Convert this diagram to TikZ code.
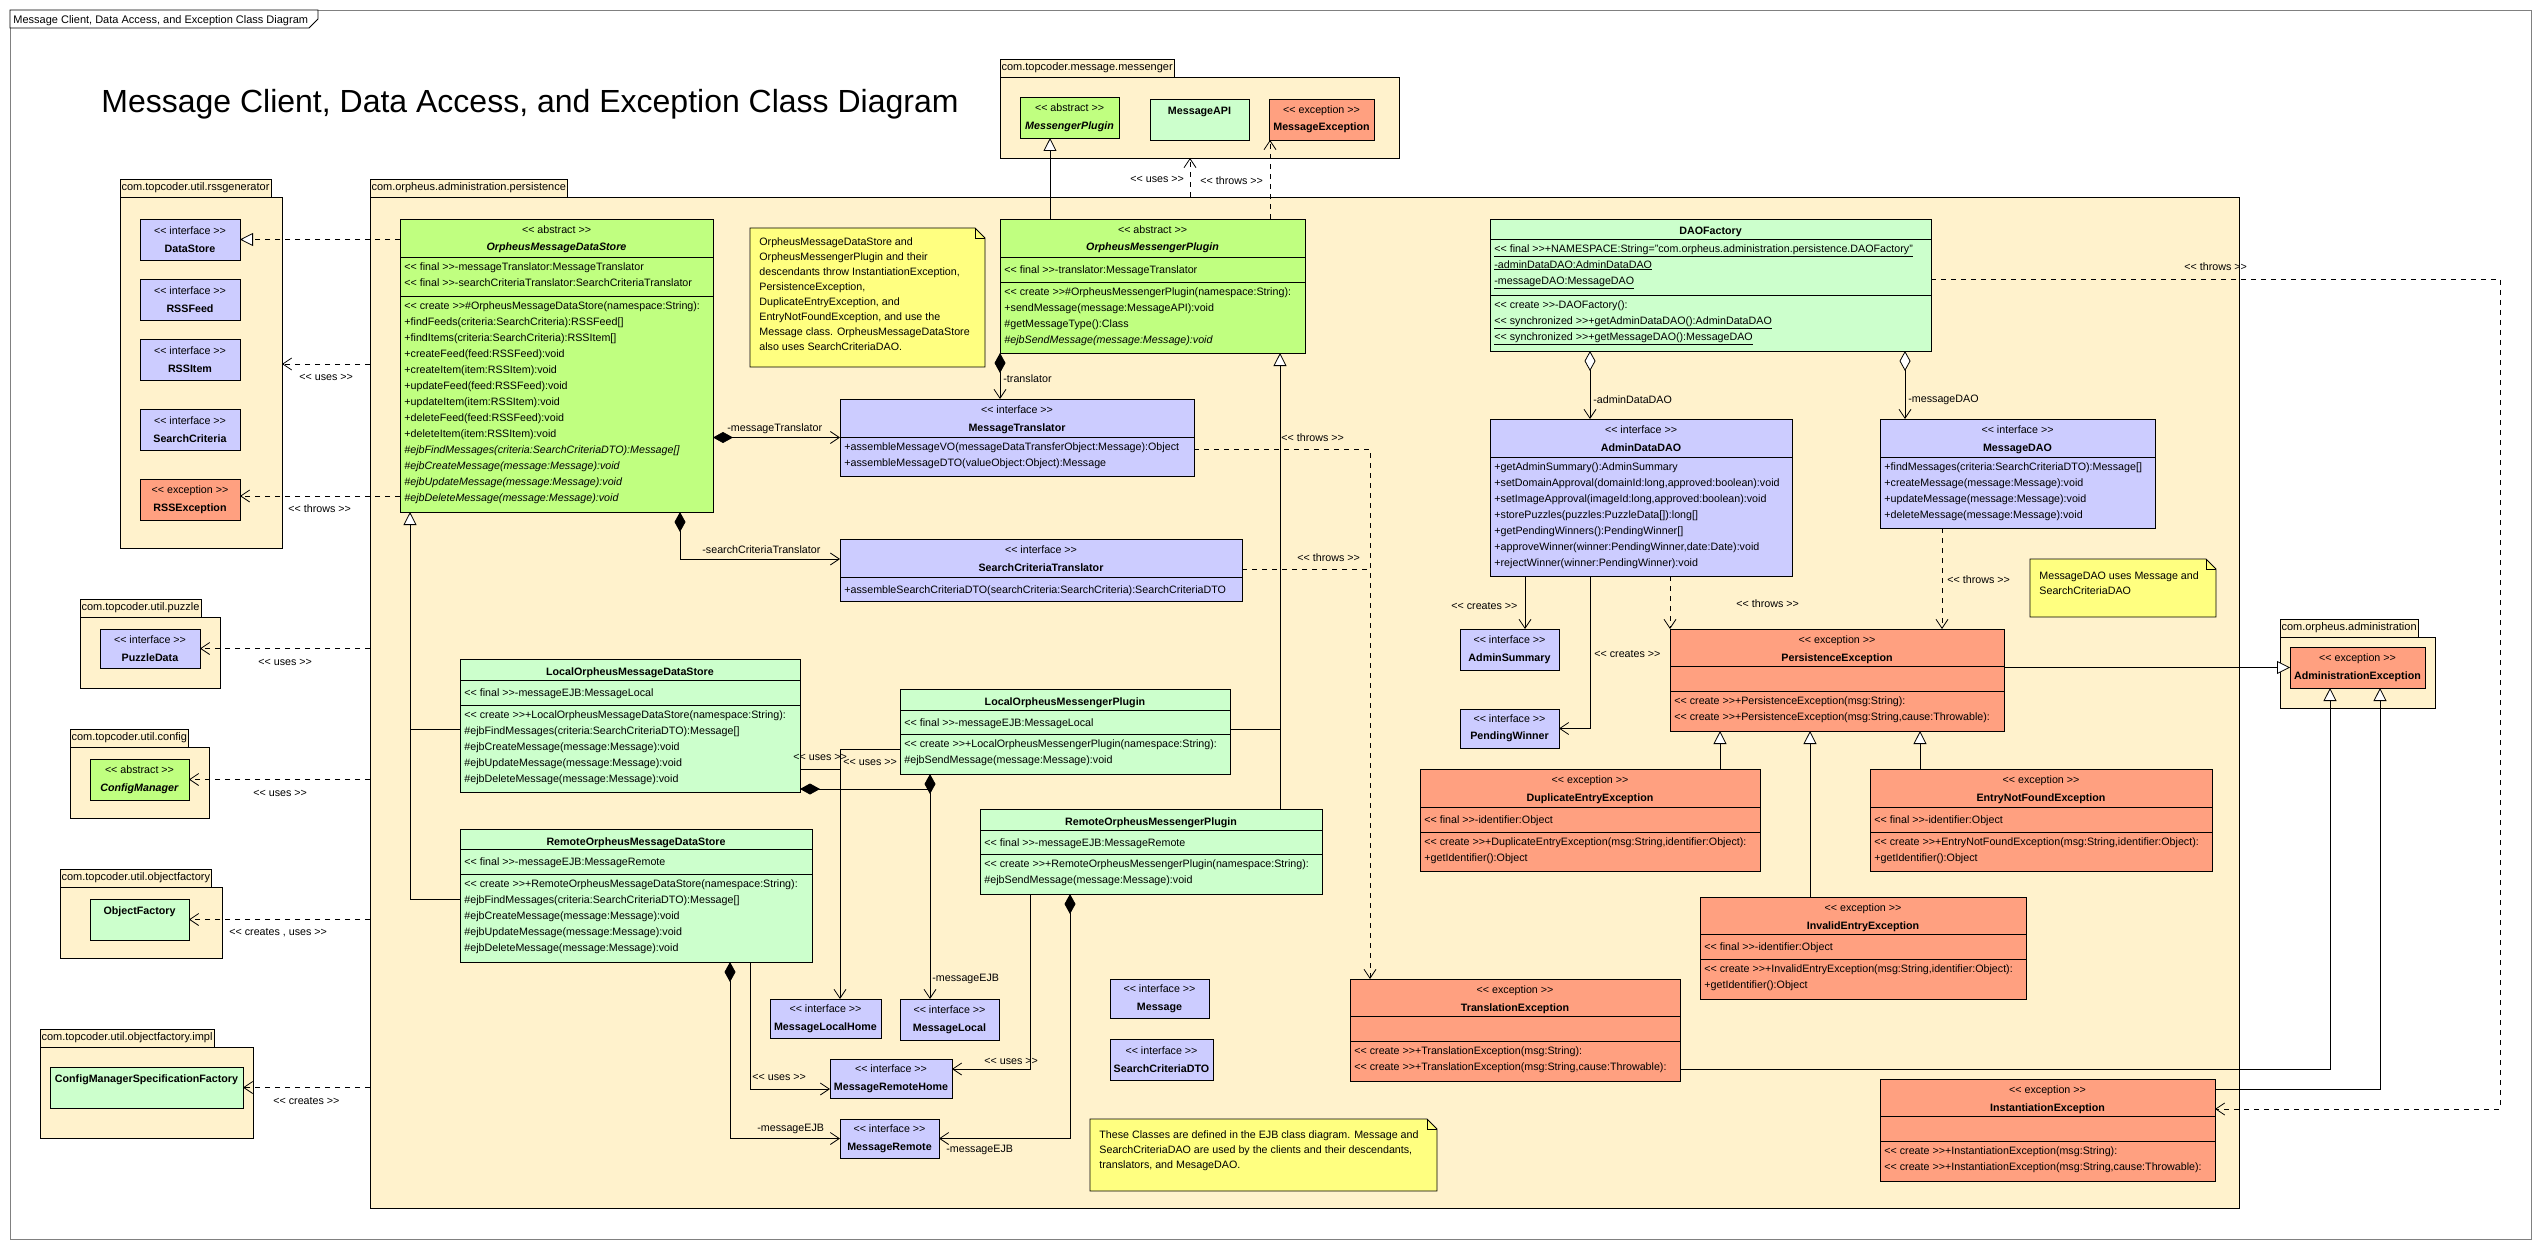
\documentclass[tikz,border=0pt]{standalone}
\usepackage{fontspec}
\setmainfont{Liberation Sans}
\usetikzlibrary{arrows.meta}
\definecolor{pkgfill}{RGB}{255,242,204}
\definecolor{ifill}{RGB}{204,204,255}
\definecolor{afill}{RGB}{192,255,128}
\definecolor{cfill}{RGB}{204,255,204}
\definecolor{efill}{RGB}{255,160,128}
\definecolor{nfill}{RGB}{255,255,128}
\definecolor{framegray}{RGB}{128,128,128}
\newcommand{\stt}[1]{<\kern0pt< #1 >\kern0pt>}
\newcommand{\umlfont}{\fontsize{10.7}{16}\selectfont}
\newcommand{\notefont}{\fontsize{10.7}{15}\selectfont}
\newcommand{\tabfont}{\fontsize{11}{13}\selectfont}

\begin{document}
\begin{tikzpicture}[x=1pt, y=-1pt, line width=0.8pt,
    box/.style={draw, anchor=north west, inner sep=0pt, outer sep=0pt},
    sbox/.style={box, align=center, font=\umlfont, minimum width=100pt, minimum height=41pt},
    tab/.style={box, fill=pkgfill, minimum height=18pt, inner xsep=1.5pt, font=\tabfont},
    st/.style={anchor=base, inner sep=0pt, font=\umlfont},
    nm/.style={anchor=base, inner sep=0pt, font=\umlfont\bfseries},
    an/.style={anchor=base, inner sep=0pt, font=\umlfont\bfseries\itshape},
    txt/.style={anchor=north west, inner sep=0pt, align=left, font=\umlfont, execute at begin node={\strut}},
    lbl/.style={anchor=west, inner sep=0pt, font=\umlfont},
    dl/.style={dash pattern=on 5pt off 5pt},
    dep/.style={dl, -{Straight Barb[length=9pt,width=12pt]}},
    asc/.style={-{Straight Barb[length=9pt,width=12pt]}},
    gen/.style={-{Triangle[fill=white,length=13pt,width=13pt]}},
    real/.style={dl, gen},
    dia/.style={{Diamond[length=20pt,width=11pt]}-},
    comp/.style={{Diamond[length=20pt,width=11pt]}-{Straight Barb[length=9pt,width=12pt]}},
    aggr/.style={{Diamond[fill=white,length=20pt,width=11pt]}-{Straight Barb[length=9pt,width=12pt]}}]
    \fill[white] (0,0) rectangle (2540,1249);
    \useasboundingbox (0,0) rectangle (2540,1249);
    \draw[framegray] (10,10) rectangle (2531,1239);
    \draw[fill=white] (10,10) -- (318,10) -- (318,19) -- (309,28) -- (10,28) -- cycle;
    \node[anchor=base west, inner sep=0pt, font=\tabfont] (frameL) at (13,24) {Message Client, Data Access, and Exception Class Diagram};
    \node[anchor=base west, inner sep=0pt, font=\fontsize{32}{38}\selectfont] (title) at (101,113) {Message Client, Data Access, and Exception Class Diagram};

    \node[box, fill=pkgfill, minimum width=162pt, minimum height=351pt] (pRss) at (120,197) {};
    \node[tab] (pRssT) at (120,179) {com.topcoder.util.rssgenerator};
    \node[box, fill=pkgfill, minimum width=1869pt, minimum height=1011pt] (pPers) at (370,197) {};
    \node[tab] (pPersT) at (370,179) {com.orpheus.administration.persistence};
    \node[box, fill=pkgfill, minimum width=399pt, minimum height=81pt] (pMsg) at (1000,77) {};
    \node[tab] (pMsgT) at (1000,59) {com.topcoder.message.messenger};
    \node[box, fill=pkgfill, minimum width=140pt, minimum height=71pt] (pPuz) at (80,617) {};
    \node[tab] (pPuzT) at (80,599) {com.topcoder.util.puzzle};
    \node[box, fill=pkgfill, minimum width=139pt, minimum height=71pt] (pCfg) at (70,747) {};
    \node[tab] (pCfgT) at (70,729) {com.topcoder.util.config};
    \node[box, fill=pkgfill, minimum width=162pt, minimum height=71pt] (pOf) at (60,887) {};
    \node[tab] (pOfT) at (60,869) {com.topcoder.util.objectfactory};
    \node[box, fill=pkgfill, minimum width=213pt, minimum height=91pt] (pImpl) at (40,1047) {};
    \node[tab] (pImplT) at (40,1029) {com.topcoder.util.objectfactory.impl};
    \node[box, fill=pkgfill, minimum width=155pt, minimum height=71pt] (pAdm) at (2280,637) {};
    \node[tab] (pAdmT) at (2280,619) {com.orpheus.administration};

    \node[sbox, fill=ifill] (dstore) at (140,219) {\stt{interface}\\[1.5pt]\textbf{DataStore}};
    \node[sbox, fill=ifill] (rfeed) at (140,279) {\stt{interface}\\[1.5pt]\textbf{RSSFeed}};
    \node[sbox, fill=ifill] (ritem) at (140,339) {\stt{interface}\\[1.5pt]\textbf{RSSItem}};
    \node[sbox, fill=ifill] (scrit) at (140,409) {\stt{interface}\\[1.5pt]\textbf{SearchCriteria}};
    \node[sbox, fill=efill] (rssex) at (140,479) {\stt{exception}\\[1.5pt]\textbf{RSSException}};
    \node[sbox, fill=ifill, minimum height=39pt] (pdata) at (100,629) {\stt{interface}\\[1.5pt]\textbf{PuzzleData}};
    \node[sbox, fill=afill, minimum width=99pt] (cfgm) at (90,759) {\stt{abstract}\\[1.5pt]\textbf{\textit{ConfigManager}}};
    \node[sbox, fill=cfill, minimum width=99pt] (objf) at (90,899) {};
    \node[nm] (objfN) at ([yshift=-15.5pt]objf.north) {ObjectFactory};
    \node[sbox, fill=cfill, minimum width=193pt] (cmsf) at (50,1067) {};
    \node[nm] (cmsfN) at ([yshift=-15.5pt]cmsf.north) {ConfigManagerSpecificationFactory};
    \node[sbox, fill=afill, minimum width=99pt] (mplug) at (1020,97) {\stt{abstract}\\[1.5pt]\textbf{\textit{MessengerPlugin}}};
    \node[sbox, fill=cfill, minimum width=99pt] (mapi) at (1150,99) {};
    \node[nm] (mapiN) at ([yshift=-15.5pt]mapi.north) {MessageAPI};
    \node[sbox, fill=efill, minimum width=105pt] (mexc) at (1269,99) {\stt{exception}\\[1.5pt]\textbf{MessageException}};
    \node[sbox, fill=efill, minimum width=135pt] (adex) at (2290,647) {\stt{exception}\\[1.5pt]\textbf{AdministrationException}};

    \node[box, fill=afill, minimum width=313pt, minimum height=293pt] (ods) at (400,219) {};
    \draw (ods.west |- 0,257) -- (ods.east |- 0,257);
    \draw (ods.west |- 0,296) -- (ods.east |- 0,296);
    \node[st] (odsS) at ([yshift=-14.5pt]ods.north) {\stt{abstract}};
    \node[an] (odsN) at ([yshift=-32pt]ods.north) {OrpheusMessageDataStore};
    \node[txt] (odsA) at (404,262) {\stt{final}-messageTranslator:MessageTranslator\\
        \stt{final}-searchCriteriaTranslator:SearchCriteriaTranslator};
    \node[txt] (odsM) at (404,301) {\stt{create}\#OrpheusMessageDataStore(namespace:String):\\
        +findFeeds(criteria:SearchCriteria):RSSFeed[]\\
        +findItems(criteria:SearchCriteria):RSSItem[]\\
        +createFeed(feed:RSSFeed):void\\
        +createItem(item:RSSItem):void\\
        +updateFeed(feed:RSSFeed):void\\
        +updateItem(item:RSSItem):void\\
        +deleteFeed(feed:RSSFeed):void\\
        +deleteItem(item:RSSItem):void\\
        \textit{\#ejbFindMessages(criteria:SearchCriteriaDTO):Message[]}\\
        \textit{\#ejbCreateMessage(message:Message):void}\\
        \textit{\#ejbUpdateMessage(message:Message):void}\\
        \textit{\#ejbDeleteMessage(message:Message):void}};

    \draw[fill=nfill] (750,228) -- (975,228) -- (985,238) -- (985,367) -- (750,367) -- cycle;
    \draw (975,228) -- (975,238) -- (985,238);
    \node[txt, font=\notefont] (noteA) at (759,237.5) {OrpheusMessageDataStore and\\
        OrpheusMessengerPlugin and their\\
        descendants throw InstantiationException,\\
        PersistenceException,\\
        DuplicateEntryException, and\\
        EntryNotFoundException, and use the\\
        Message class. OrpheusMessageDataStore\\
        also uses SearchCriteriaDAO.};

    \node[box, fill=afill, minimum width=305pt, minimum height=134pt] (omp) at (1000,219) {};
    \draw (omp.west |- 0,257) -- (omp.east |- 0,257);
    \draw (omp.west |- 0,282) -- (omp.east |- 0,282);
    \node[st] (ompS) at ([yshift=-14.5pt]omp.north) {\stt{abstract}};
    \node[an] (ompN) at ([yshift=-32pt]omp.north) {OrpheusMessengerPlugin};
    \node[txt] (ompA) at (1004,262) {\stt{final}-translator:MessageTranslator};
    \node[txt] (ompM) at (1004,287) {\stt{create}\#OrpheusMessengerPlugin(namespace:String):\\
        +sendMessage(message:MessageAPI):void\\
        \#getMessageType():Class\\
        \textit{\#ejbSendMessage(message:Message):void}};

    \node[box, fill=ifill, minimum width=354pt, minimum height=77pt] (mtr) at (840,399) {};
    \draw (mtr.west |- 0,437) -- (mtr.east |- 0,437);
    \node[st] (mtrS) at ([yshift=-14.5pt]mtr.north) {\stt{interface}};
    \node[nm] (mtrN) at ([yshift=-32pt]mtr.north) {MessageTranslator};
    \node[txt] (mtrM) at (844,442) {+assembleMessageVO(messageDataTransferObject:Message):Object\\
        +assembleMessageDTO(valueObject:Object):Message};

    \node[box, fill=ifill, minimum width=402pt, minimum height=62pt] (sct) at (840,539) {};
    \draw (sct.west |- 0,577) -- (sct.east |- 0,577);
    \node[st] (sctS) at ([yshift=-14.5pt]sct.north) {\stt{interface}};
    \node[nm] (sctN) at ([yshift=-32pt]sct.north) {SearchCriteriaTranslator};
    \node[txt] (sctM) at (844,582) {+assembleSearchCriteriaDTO(searchCriteria:SearchCriteria):SearchCriteriaDTO};

    \node[box, fill=cfill, minimum width=441pt, minimum height=132pt] (daof) at (1490,219) {};
    \draw (daof.west |- 0,239) -- (daof.east |- 0,239);
    \draw (daof.west |- 0,295) -- (daof.east |- 0,295);
    \node[nm] (daofN) at ([yshift=-16pt]daof.north) {DAOFactory};
    \node[txt] (daofA) at (1494,244) {\underline{\stt{final}+NAMESPACE:String="com.orpheus.administration.persistence.DAOFactory"}\\
        \underline{-adminDataDAO:AdminDataDAO}\\
        \underline{-messageDAO:MessageDAO}};
    \node[txt] (daofM) at (1494,300) {\stt{create}-DAOFactory():\\
        \underline{\stt{synchronized}+getAdminDataDAO():AdminDataDAO}\\
        \underline{\stt{synchronized}+getMessageDAO():MessageDAO}};

    \node[box, fill=ifill, minimum width=302pt, minimum height=157pt] (adao) at (1490,419) {};
    \draw (adao.west |- 0,457) -- (adao.east |- 0,457);
    \node[st] (adaoS) at ([yshift=-14.5pt]adao.north) {\stt{interface}};
    \node[nm] (adaoN) at ([yshift=-32pt]adao.north) {AdminDataDAO};
    \node[txt] (adaoM) at (1494,462) {+getAdminSummary():AdminSummary\\
        +setDomainApproval(domainId:long,approved:boolean):void\\
        +setImageApproval(imageId:long,approved:boolean):void\\
        +storePuzzles(puzzles:PuzzleData[]):long[]\\
        +getPendingWinners():PendingWinner[]\\
        +approveWinner(winner:PendingWinner,date:Date):void\\
        +rejectWinner(winner:PendingWinner):void};

    \node[box, fill=ifill, minimum width=275pt, minimum height=109pt] (mdao) at (1880,419) {};
    \draw (mdao.west |- 0,457) -- (mdao.east |- 0,457);
    \node[st] (mdaoS) at ([yshift=-14.5pt]mdao.north) {\stt{interface}};
    \node[nm] (mdaoN) at ([yshift=-32pt]mdao.north) {MessageDAO};
    \node[txt] (mdaoM) at (1884,462) {+findMessages(criteria:SearchCriteriaDTO):Message[]\\
        +createMessage(message:Message):void\\
        +updateMessage(message:Message):void\\
        +deleteMessage(message:Message):void};

    \draw[fill=nfill] (2030,559) -- (2206,559) -- (2216,569) -- (2216,617) -- (2030,617) -- cycle;
    \draw (2206,559) -- (2206,569) -- (2216,569);
    \node[txt, font=\notefont] (noteB) at (2039,571.5) {MessageDAO uses Message and\\
        SearchCriteriaDAO};

    \node[sbox, fill=ifill, minimum width=99pt] (asum) at (1460,629) {\stt{interface}\\[1.5pt]\textbf{AdminSummary}};
    \node[sbox, fill=ifill, minimum width=99pt, minimum height=39pt] (pwin) at (1460,709) {\stt{interface}\\[1.5pt]\textbf{PendingWinner}};

    \node[box, fill=efill, minimum width=334pt, minimum height=102pt] (pex) at (1670,629) {};
    \draw (pex.west |- 0,666) -- (pex.east |- 0,666);
    \draw (pex.west |- 0,691) -- (pex.east |- 0,691);
    \node[st] (pexS) at ([yshift=-14.5pt]pex.north) {\stt{exception}};
    \node[nm] (pexN) at ([yshift=-32pt]pex.north) {PersistenceException};
    \node[txt] (pexM) at (1674,696) {\stt{create}+PersistenceException(msg:String):\\
        \stt{create}+PersistenceException(msg:String,cause:Throwable):};

    \node[box, fill=efill, minimum width=340pt, minimum height=102pt] (dex) at (1420,769) {};
    \draw (dex.west |- 0,807) -- (dex.east |- 0,807);
    \draw (dex.west |- 0,832) -- (dex.east |- 0,832);
    \node[st] (dexS) at ([yshift=-14.5pt]dex.north) {\stt{exception}};
    \node[nm] (dexN) at ([yshift=-32pt]dex.north) {DuplicateEntryException};
    \node[txt] (dexA) at (1424,812) {\stt{final}-identifier:Object};
    \node[txt] (dexM) at (1424,837) {\stt{create}+DuplicateEntryException(msg:String,identifier:Object):\\
        +getIdentifier():Object};

    \node[box, fill=efill, minimum width=342pt, minimum height=102pt] (enf) at (1870,769) {};
    \draw (enf.west |- 0,807) -- (enf.east |- 0,807);
    \draw (enf.west |- 0,832) -- (enf.east |- 0,832);
    \node[st] (enfS) at ([yshift=-14.5pt]enf.north) {\stt{exception}};
    \node[nm] (enfN) at ([yshift=-32pt]enf.north) {EntryNotFoundException};
    \node[txt] (enfA) at (1874,812) {\stt{final}-identifier:Object};
    \node[txt] (enfM) at (1874,837) {\stt{create}+EntryNotFoundException(msg:String,identifier:Object):\\
        +getIdentifier():Object};

    \node[box, fill=efill, minimum width=326pt, minimum height=102pt] (iex) at (1700,897) {};
    \draw (iex.west |- 0,934) -- (iex.east |- 0,934);
    \draw (iex.west |- 0,959) -- (iex.east |- 0,959);
    \node[st] (iexS) at ([yshift=-14.5pt]iex.north) {\stt{exception}};
    \node[nm] (iexN) at ([yshift=-32pt]iex.north) {InvalidEntryException};
    \node[txt] (iexA) at (1704,939) {\stt{final}-identifier:Object};
    \node[txt] (iexM) at (1704,964) {\stt{create}+InvalidEntryException(msg:String,identifier:Object):\\
        +getIdentifier():Object};

    \node[box, fill=efill, minimum width=330pt, minimum height=102pt] (tex) at (1350,979) {};
    \draw (tex.west |- 0,1016) -- (tex.east |- 0,1016);
    \draw (tex.west |- 0,1041) -- (tex.east |- 0,1041);
    \node[st] (texS) at ([yshift=-14.5pt]tex.north) {\stt{exception}};
    \node[nm] (texN) at ([yshift=-32pt]tex.north) {TranslationException};
    \node[txt] (texM) at (1354,1046) {\stt{create}+TranslationException(msg:String):\\
        \stt{create}+TranslationException(msg:String,cause:Throwable):};

    \node[box, fill=efill, minimum width=335pt, minimum height=102pt] (inst) at (1880,1079) {};
    \draw (inst.west |- 0,1116) -- (inst.east |- 0,1116);
    \draw (inst.west |- 0,1141) -- (inst.east |- 0,1141);
    \node[st] (instS) at ([yshift=-14.5pt]inst.north) {\stt{exception}};
    \node[nm] (instN) at ([yshift=-32pt]inst.north) {InstantiationException};
    \node[txt] (instM) at (1884,1146) {\stt{create}+InstantiationException(msg:String):\\
        \stt{create}+InstantiationException(msg:String,cause:Throwable):};

    \node[box, fill=cfill, minimum width=340pt, minimum height=133pt] (lods) at (460,659) {};
    \draw (lods.west |- 0,680) -- (lods.east |- 0,680);
    \draw (lods.west |- 0,705) -- (lods.east |- 0,705);
    \node[nm] (lodsN) at ([yshift=-16pt]lods.north) {LocalOrpheusMessageDataStore};
    \node[txt] (lodsA) at (464,685) {\stt{final}-messageEJB:MessageLocal};
    \node[txt] (lodsM) at (464,710) {\stt{create}+LocalOrpheusMessageDataStore(namespace:String):\\
        \#ejbFindMessages(criteria:SearchCriteriaDTO):Message[]\\
        \#ejbCreateMessage(message:Message):void\\
        \#ejbUpdateMessage(message:Message):void\\
        \#ejbDeleteMessage(message:Message):void};

    \node[box, fill=cfill, minimum width=352pt, minimum height=133pt] (rods) at (460,829) {};
    \draw (rods.west |- 0,849) -- (rods.east |- 0,849);
    \draw (rods.west |- 0,874) -- (rods.east |- 0,874);
    \node[nm] (rodsN) at ([yshift=-16pt]rods.north) {RemoteOrpheusMessageDataStore};
    \node[txt] (rodsA) at (464,854) {\stt{final}-messageEJB:MessageRemote};
    \node[txt] (rodsM) at (464,879) {\stt{create}+RemoteOrpheusMessageDataStore(namespace:String):\\
        \#ejbFindMessages(criteria:SearchCriteriaDTO):Message[]\\
        \#ejbCreateMessage(message:Message):void\\
        \#ejbUpdateMessage(message:Message):void\\
        \#ejbDeleteMessage(message:Message):void};

    \node[box, fill=cfill, minimum width=330pt, minimum height=85pt] (lomp) at (900,689) {};
    \draw (lomp.west |- 0,710) -- (lomp.east |- 0,710);
    \draw (lomp.west |- 0,734) -- (lomp.east |- 0,734);
    \node[nm] (lompN) at ([yshift=-16pt]lomp.north) {LocalOrpheusMessengerPlugin};
    \node[txt] (lompA) at (904,715) {\stt{final}-messageEJB:MessageLocal};
    \node[txt] (lompM) at (904,739) {\stt{create}+LocalOrpheusMessengerPlugin(namespace:String):\\
        \#ejbSendMessage(message:Message):void};

    \node[box, fill=cfill, minimum width=342pt, minimum height=85pt] (romp) at (980,809) {};
    \draw (romp.west |- 0,830) -- (romp.east |- 0,830);
    \draw (romp.west |- 0,854) -- (romp.east |- 0,854);
    \node[nm] (rompN) at ([yshift=-16pt]romp.north) {RemoteOrpheusMessengerPlugin};
    \node[txt] (rompA) at (984,835) {\stt{final}-messageEJB:MessageRemote};
    \node[txt] (rompM) at (984,859) {\stt{create}+RemoteOrpheusMessengerPlugin(namespace:String):\\
        \#ejbSendMessage(message:Message):void};

    \node[sbox, fill=ifill, minimum width=111pt, minimum height=39pt] (mlh) at (770,999) {\stt{interface}\\[1.5pt]\textbf{MessageLocalHome}};
    \node[sbox, fill=ifill, minimum width=99pt] (mloc) at (900,999) {\stt{interface}\\[1.5pt]\textbf{MessageLocal}};
    \node[sbox, fill=ifill, minimum width=122pt, minimum height=39pt] (mrh) at (830,1059) {\stt{interface}\\[1.5pt]\textbf{MessageRemoteHome}};
    \node[sbox, fill=ifill, minimum width=99pt, minimum height=39pt] (mrem) at (840,1119) {\stt{interface}\\[1.5pt]\textbf{MessageRemote}};
    \node[sbox, fill=ifill, minimum width=99pt, minimum height=39pt] (msg) at (1110,979) {\stt{interface}\\[1.5pt]\textbf{Message}};
    \node[sbox, fill=ifill, minimum width=103pt] (scdto) at (1110,1039) {\stt{interface}\\[1.5pt]\textbf{SearchCriteriaDTO}};

    \draw[fill=nfill] (1090,1119) -- (1427,1119) -- (1437,1129) -- (1437,1191) -- (1090,1191) -- cycle;
    \draw (1427,1119) -- (1427,1129) -- (1437,1129);
    \node[txt, font=\notefont] (noteC) at (1099,1130.5) {These Classes are defined in the EJB class diagram. Message and\\
        SearchCriteriaDAO are used by the clients and their descendants,\\
        translators, and MesageDAO.};

    \draw[real] (ods.west |- dstore.east) -- (dstore.east);
    \draw[dep] (pPers.west |- 0,364) -- (pRss.east |- 0,364);
    \node[lbl] (lUsesRss) at (299,377) {\stt{uses}};
    \draw[dep] (ods.west |- 0,496) -- (rssex.east |- 0,496);
    \node[lbl] (lThrowsRss) at (288,509) {\stt{throws}};
    \draw[dep] (pPers.west |- pdata.east) -- (pdata.east);
    \node[lbl] (lUsesPuz) at (258,662) {\stt{uses}};
    \draw[dep] (pPers.west |- cfgm.east) -- (cfgm.east);
    \node[lbl] (lUsesCfg) at (253,793) {\stt{uses}};
    \draw[dep] (pPers.west |- objf.east) -- (objf.east);
    \node[lbl] (lUsesOf) at (229,933) {\stt{creates , uses}};
    \draw[dep] (pPers.west |- cmsf.east) -- (cmsf.east);
    \node[lbl] (lCreatesCmsf) at (273,1101) {\stt{creates}};

    \draw[gen] (omp.north -| 1050,0) -- (mplug.south -| 1050,0);
    \draw[dep] (pPers.north -| 1190,0) -- (pMsg.south -| 1190,0);
    \node[lbl] (lUsesMsg) at (1130,179) {\stt{uses}};
    \draw[dep] (omp.north -| 1270,0) -- (mexc.south -| 1270,0);
    \node[lbl] (lThrowsMsg) at (1200,181) {\stt{throws}};

    \draw[comp] (ods.east |- mtr.west) -- (mtr.west);
    \node[lbl] (lMtr) at (727,429) {-messageTranslator};
    \draw[comp] (ods.south -| 680,0) |- (sct.west |- 0,559);
    \node[lbl] (lSct) at (702,550) {-searchCriteriaTranslator};
    \draw[comp] (omp.south west) -- (mtr.north -| omp.south west);
    \node[lbl] (lTransl) at (1003,379) {-translator};

    \draw[gen] (rods.west |- 0,899) -| ([xshift=10pt]ods.south west);
    \draw (lods.west |- 0,729) -- ++(-50,0);
    \draw[gen] (romp.north -| 1280,0) -- (omp.south -| 1280,0);
    \draw (lomp.east |- 0,729) -- ++(50,0);

    \draw[dep] (mtr.east |- 0,449) -| (tex.north -| 1370,0);
    \node[lbl] (lThrowsMtr) at (1281,438) {\stt{throws}};
    \draw[dl] (sct.east |- 0,569) -- (1370,569);
    \node[lbl] (lThrowsSct) at (1297,558) {\stt{throws}};

    \draw[aggr] (daof.south -| 1590,0) -- (adao.north -| 1590,0);
    \node[lbl] (lAdao) at (1593,400) {-adminDataDAO};
    \draw[aggr] (daof.south -| 1905,0) -- (mdao.north -| 1905,0);
    \node[lbl] (lMdao) at (1908,400) {-messageDAO};
    \draw[dep] (daof.east |- 0,279) -| (2500,1109) -- (inst.east |- 0,1109);
    \node[lbl] (lThrowsDaof) at (2184,267) {\stt{throws}};

    \draw[asc] (adao.south -| 1525,0) -- (asum.north -| 1525,0);
    \node[lbl] (lCreatesAsum) at (1451,606) {\stt{creates}};
    \draw[asc] (adao.south -| 1590,0) |- (pwin.east);
    \node[lbl] (lCreatesPwin) at (1594,654) {\stt{creates}};
    \draw[dep] (adao.south -| 1670,0) -- (pex.north -| 1670,0);
    \node[lbl] (lThrowsAdao) at (1736,604) {\stt{throws}};
    \draw[dep] (mdao.south -| 1942,0) -- (pex.north -| 1942,0);
    \node[lbl] (lThrowsMdao) at (1947,580) {\stt{throws}};

    \draw[gen] (pex.east |- adex.west) -- (adex.west);
    \draw[gen] (dex.north -| 1720,0) -- (pex.south -| 1720,0);
    \draw[gen] (iex.north -| 1810,0) -- (pex.south -| 1810,0);
    \draw[gen] (enf.north -| 1920,0) -- (pex.south -| 1920,0);
    \draw[gen] (tex.east |- 0,1069) -| (adex.south -| 2330,0);
    \draw[gen] (inst.east |- 0,1089) -| (adex.south -| 2380,0);

    \draw[dia] (lods.east |- 0,789) -- (930,789);
    \draw[comp] (lomp.south -| 930,0) -- (mloc.north -| 930,0);
    \node[lbl] (lEjbLoc) at (932,979) {-messageEJB};
    \draw (lods.east |- 0,769) -- ++(40,0);
    \draw[asc] (lomp.west |- 0,749) -| (mlh.north -| 840,0);
    \node[lbl] (lUsesLods) at (793,757) {\stt{uses}};
    \node[lbl] (lUsesLomp) at (843,762) {\stt{uses}};
    \draw[asc] (rods.south -| 750,0) |- (mrh.west |- 0,1089);
    \node[lbl] (lUsesRods) at (752,1077) {\stt{uses}};
    \draw[asc] (romp.south -| 1030,0) |- (mrh.east |- 0,1069);
    \node[lbl] (lUsesRomp) at (984,1061) {\stt{uses}};
    \draw[comp] (rods.south -| 730,0) |- (mrem.west);
    \node[lbl] (lEjbRods) at (757,1129) {-messageEJB};
    \draw[comp] (romp.south -| 1070,0) |- (mrem.east);
    \node[lbl] (lEjbRomp) at (946,1150) {-messageEJB};
\end{tikzpicture}
\end{document}
